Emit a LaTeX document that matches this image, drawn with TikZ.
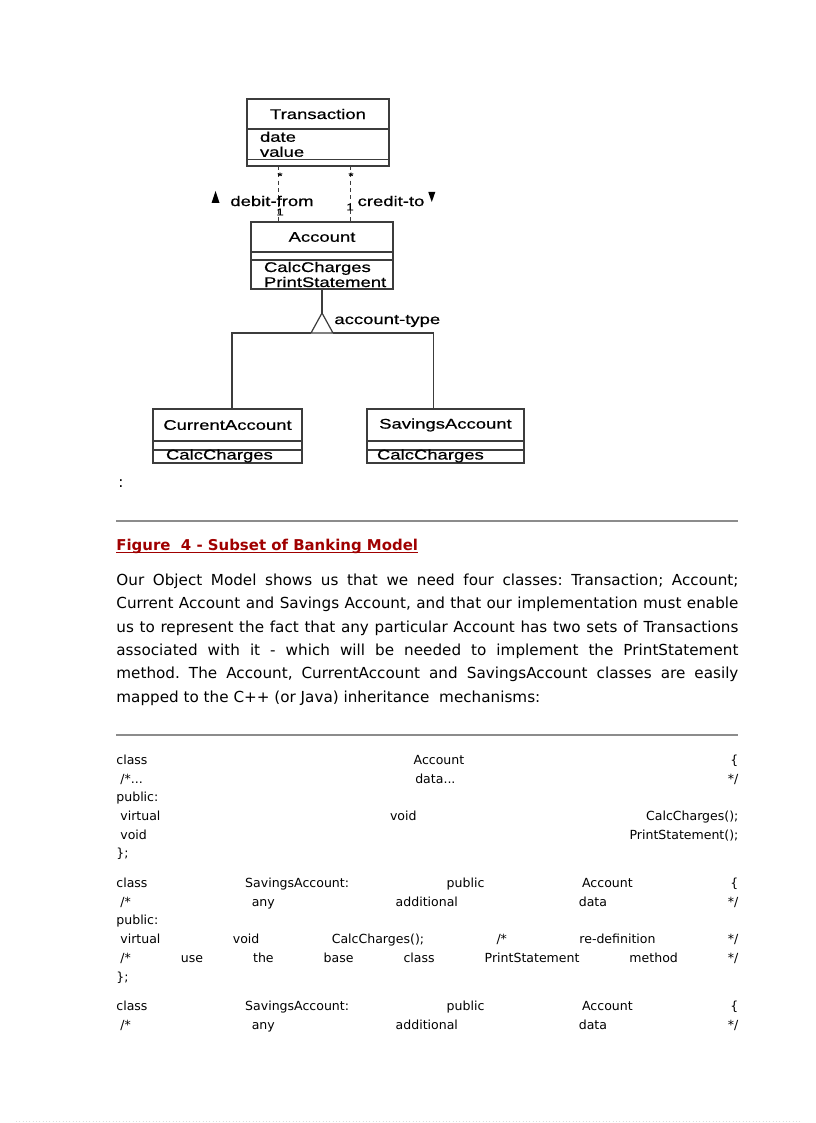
\documentclass[tikz,border=0pt]{standalone}
\usepackage{fontspec}
\setmainfont{DejaVu Sans}
\newfontfamily\umlfont[FakeStretch=1.32, FakeBold=0.6]{Liberation Sans}
\usepackage{xcolor}
\usetikzlibrary{arrows.meta, positioning}
\frenchspacing

\definecolor{umlgray}{HTML}{3C3C3C}
\definecolor{rulegray}{HTML}{8C8C8C}
\definecolor{captionred}{HTML}{A00000}

\begin{document}
\begin{tikzpicture}[x=0.75pt, y=-0.75pt, semithick]
    \tikzstyle{classbox}=[draw=umlgray, line width=0.9pt, inner sep=0pt, outer sep=0pt, font=\umlfont\fontsize{10.5}{11.25}\selectfont]
    \tikzstyle{classline}=[draw=umlgray, line width=0.9pt]
    \tikzstyle{assoc}=[draw=umlgray, line width=0.7pt, dash pattern=on 3pt off 2.5pt]
    \tikzstyle{umllabel}=[inner sep=0pt, font=\umlfont\fontsize{10.5}{11.25}\selectfont]
    \tikzstyle{mult}=[inner sep=0pt, font=\umlfont\fontsize{7.5}{8}\selectfont]
    \tikzstyle{bodyline}=[anchor=base west, inner sep=0pt, font=\fontsize{11.4}{14}\selectfont]
    \tikzstyle{codeline}=[anchor=base west, inner sep=0pt, font=\fontsize{9.4}{11}\selectfont]
    \tikzstyle{rule}=[draw=rulegray, line width=1.5pt]

    \useasboundingbox (0,0) rectangle (816,1123);
    \fill[white] (0,0) rectangle (816,1123);

    % --- CLASSES (UML boxes, three compartments each) ---
    % Transaction (top)
    \node[classbox, minimum width=106.5pt, minimum height=22.5pt] (transname) at (318,114) {Transaction};
    \node[classbox, below=0pt of transname, minimum width=106.5pt, minimum height=22.9pt, text width=87pt, align=left] (transattr) {date\\value};
    \node[classbox, below=0pt of transattr, minimum width=106.5pt, minimum height=4.9pt] (transops) {};

    % Account (middle)
    \node[classbox, minimum width=106.5pt, minimum height=22.5pt] (accname) at (322,237) {Account};
    \node[classbox, below=0pt of accname, minimum width=106.5pt, minimum height=6pt] (accattr) {};
    \node[classbox, below=0pt of accattr, minimum width=106.5pt, minimum height=21.75pt, text width=87pt, align=left] (accops) {CalcCharges\\PrintStatement};

    % CurrentAccount (bottom left)
    \node[classbox, minimum width=111.75pt, minimum height=24pt] (curname) at (227.5,425) {CurrentAccount};
    \node[classbox, below=0pt of curname, minimum width=111.75pt, minimum height=6.75pt] (curattr) {};
    \node[classbox, below=0pt of curattr, minimum width=111.75pt, minimum height=9.75pt, text width=92.25pt, text height=6pt, text depth=1.5pt, align=left] (curops) {CalcCharges};

    % SavingsAccount (bottom right)
    \node[classbox, minimum width=117.75pt, minimum height=24pt] (savname) at (445.5,425) {SavingsAccount};
    \node[classbox, below=0pt of savname, minimum width=117.75pt, minimum height=6.75pt] (savattr) {};
    \node[classbox, below=0pt of savattr, minimum width=117.75pt, minimum height=9.75pt, text width=102.75pt, text height=6pt, text depth=1.5pt, align=left] (savops) {CalcCharges};

    % --- ASSOCIATIONS ---
    \coordinate (debit) at (278,0);
    \coordinate (credit) at (350,0);
    \draw[assoc] (debit |- transops.south) -- (debit |- accname.north);
    \draw[assoc] (credit |- transops.south) -- (credit |- accname.north);

    \node[mult] (debitmany) at (280,176) {*};
    \node[mult] (creditmany) at (351,176) {*};
    \node[mult] (debitone) at (280,212) {1};
    \node[mult] (creditone) at (350,207) {1};

    \node[umllabel] (debitlbl) at (272,201) {debit-from};
    \node[umllabel] (creditlbl) at (391,201) {credit-to};
    \fill (debitlbl.west) ++(-14.5,-10) -- ++(4,12) -- ++(-8,0) -- cycle;   % reading direction
    \fill (creditlbl.east) ++(3.5,-9) -- ++(7,0) -- ++(-3.5,10) -- cycle;

    % --- GENERALIZATION ---
    \coordinate (gen) at (accops.south |- 0,313);
    \draw[classline] (accops.south) -- (gen);
    \draw[classline, fill=white] (gen) -- ++(-11,20) coordinate (genleft) -- ++(22,0) coordinate (genright) -- cycle;
    \draw[classline] ([xshift=3.4pt]curname.north) |- (genleft);
    \draw[classline] ([xshift=-9pt]savname.north) |- (genright);
    \node[umllabel, anchor=west] (typelbl) at ([shift={(12,8)}]gen) {account-type};

    \node[bodyline] (colon) at (118,487) {:};

    % --- CAPTION AND TEXT ---
    \draw[rule] (116,521) -- (738,521);
    \node[bodyline, font=\bfseries\fontsize{11.2}{14}\selectfont, text=captionred] (caption) at (116,550) {Figure\ \ 4 - Subset of Banking Model};
    \draw[captionred, line width=1pt] ([yshift=-2pt]caption.base west) -- ([yshift=-2pt]caption.base east);

    \node[bodyline] (body1) at (116,585) {\makebox[466.5pt][s]{Our Object Model shows us that we need four classes: Transaction; Account;}};
    \node[bodyline] (body2) at (116,608.5) {\makebox[466.5pt][s]{Current Account and Savings Account, and that our implementation must enable}};
    \node[bodyline] (body3) at (116,632) {\makebox[466.5pt][s]{us to represent the fact that any particular Account has two sets of Transactions}};
    \node[bodyline] (body4) at (116,655) {\makebox[466.5pt][s]{associated with it - which will be needed to implement the PrintStatement}};
    \node[bodyline] (body5) at (116,678.5) {\makebox[466.5pt][s]{method. The Account, CurrentAccount and SavingsAccount classes are easily}};
    \node[bodyline] (body6) at (116,702) {mapped to the C++ (or Java) inheritance\ \ mechanisms:};

    % --- CODE ---
    \draw[rule] (116,735) -- (738,735);
    \node[codeline] (code1) at (116,764) {\makebox[466.5pt][s]{class Account \{}};
    \node[codeline] (code2) at (116,783) {\makebox[466.5pt][s]{\hspace*{3pt}/*... data... */}};
    \node[codeline] (code3) at (116,801) {public:};
    \node[codeline] (code4) at (116,820) {\makebox[466.5pt][s]{\hspace*{3pt}virtual void CalcCharges();}};
    \node[codeline] (code5) at (116,839) {\makebox[466.5pt][s]{\hspace*{3pt}void PrintStatement();}};
    \node[codeline] (code6) at (116,857) {\};};

    \node[codeline] (code7) at (116,887) {\makebox[466.5pt][s]{class SavingsAccount: public Account \{}};
    \node[codeline] (code8) at (116,906) {\makebox[466.5pt][s]{\hspace*{3pt}/* any additional data */}};
    \node[codeline] (code9) at (116,924) {public:};
    \node[codeline] (code10) at (116,943) {\makebox[466.5pt][s]{\hspace*{3pt}virtual void CalcCharges(); /* re-definition */}};
    \node[codeline] (code11) at (116,962) {\makebox[466.5pt][s]{\hspace*{3pt}/* use the base class PrintStatement method */}};
    \node[codeline] (code12) at (116,981) {\};};

    \node[codeline] (code13) at (116,1010) {\makebox[466.5pt][s]{class SavingsAccount: public Account \{}};
    \node[codeline] (code14) at (116,1029) {\makebox[466.5pt][s]{\hspace*{3pt}/* any additional data */}};

    \draw[gray!25, line width=0.5pt, dotted] (16,1121) -- (800,1121);
\end{tikzpicture}
\end{document}
